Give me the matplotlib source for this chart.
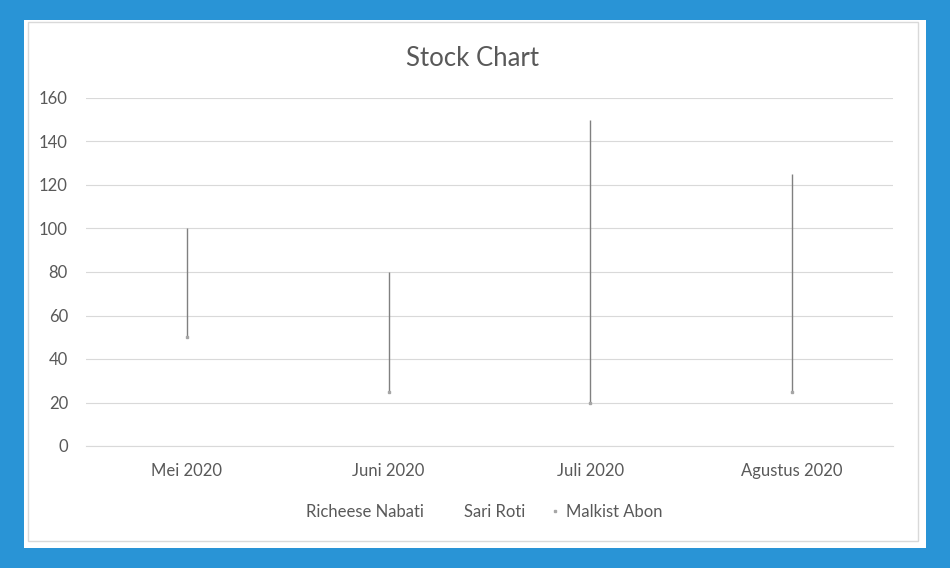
import matplotlib.pyplot as plt
from matplotlib.patches import Rectangle
from matplotlib.lines import Line2D

months = ["Mei 2020", "Juni 2020", "Juli 2020", "Agustus 2020"]
high = [100, 80, 150, 125]   # Richeese Nabati
low = [50, 25, 20, 25]       # Sari Roti
close = [50, 25, 20, 25]     # Malkist Abon
yticks = [0, 20, 40, 60, 80, 100, 120, 140, 160]

plt.rcParams['font.family'] = ['Lato', 'DejaVu Sans']
txt = '#595959'
W, H = 950, 568

fig = plt.figure(figsize=(9.5, 5.68), dpi=100, facecolor='#2994D6')

# white card + thin grey chart border (kept behind the axes)
fig.patches.append(Rectangle((24 / W, 1 - 548 / H), 902 / W, 528 / H,
                             transform=fig.transFigure, facecolor='white',
                             edgecolor='none', zorder=-5))
fig.patches.append(Rectangle((28 / W, 1 - 541 / H), 890 / W, 519 / H,
                             transform=fig.transFigure, facecolor='none',
                             edgecolor='#D9D9D9', linewidth=1, zorder=-4))

ax = fig.add_axes([86 / W, 1 - 446 / H, 807 / W, 348 / H])
ax.set_facecolor('none')

x = list(range(len(months)))
ax.vlines(x, low, high, color='#808080', linewidth=1.0, zorder=3)
ax.plot(x, close, linestyle='none', marker='s', markersize=2,
        color='#A6A6A6', zorder=4)

ax.set_xlim(-0.5, len(months) - 0.5)
ax.set_ylim(0, 160)
ax.set_yticks(yticks)
ax.set_xticks(x)
ax.set_xticklabels(months)
ax.tick_params(length=0, labelsize=12, labelcolor=txt)
ax.tick_params(axis='x', pad=12)
ax.tick_params(axis='y', pad=13)
ax.grid(axis='y', color='#D9D9D9', linewidth=0.8)
ax.set_axisbelow(True)
for s in ['top', 'right', 'left']:
    ax.spines[s].set_visible(False)
ax.spines['bottom'].set_color('#D9D9D9')

fig.text(472 / W, 1 - 58 / H, "Stock Chart", ha='center', va='center',
         fontsize=18.5, color=txt)

handles = [Line2D([], [], linestyle='none'),
           Line2D([], [], linestyle='none'),
           Line2D([], [], linestyle='none', marker='s', markersize=1.5,
                  color='#A6A6A6')]
fig.legend(handles, ["Richeese Nabati", "Sari Roti", "Malkist Abon"],
           loc='center', bbox_to_anchor=(476 / W, 1 - 512 / H), ncol=3,
           frameon=False, fontsize=12, labelcolor=txt, handlelength=0.6,
           handletextpad=0.4, columnspacing=1.45)

fig.savefig('out.png', dpi=100, facecolor=fig.get_facecolor())
